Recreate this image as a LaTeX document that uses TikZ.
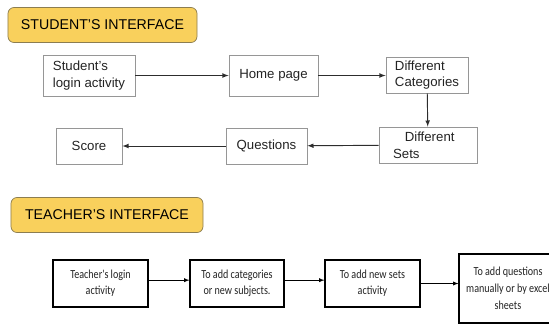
\documentclass[tikz,border=0pt]{standalone}
\usepackage{fontspec}
\setmainfont{Liberation Sans}
\newfontfamily\calfont[FakeStretch=0.82]{Carlito}
\usepackage{tikz}
\usetikzlibrary{arrows}

\definecolor{bannerfill}{RGB}{249,208,92}
\definecolor{bannerline}{RGB}{140,125,80}
\definecolor{boxgray}{RGB}{150,150,150}
\definecolor{linegray}{RGB}{45,45,45}
\definecolor{textgray}{RGB}{35,35,35}

\begin{document}
\begin{tikzpicture}[x=0.03cm, y=-0.03cm,
  banner/.style={draw=bannerline, fill=bannerfill, rounded corners=0.18cm,
       line width=0.6pt, inner sep=0cm, minimum height=1.05cm,
       font=\fontsize{12.1}{14}\selectfont},
  sbox/.style={draw=boxgray, line width=0.7pt, inner sep=0cm, text=textgray,
       minimum height=1.08cm, font=\fontsize{11.3}{14.2}\selectfont},
  tbox/.style={draw=black, line width=0.9pt, inner sep=0cm, text=textgray,
       minimum width=2.85cm, minimum height=1.41cm, align=center,
       font=\calfont\fontsize{10.5}{13.6}\selectfont},
  sarrow/.style={draw=linegray, line width=0.8pt, -latex},
  tarrow/.style={draw=black, line width=0.6pt, -latex}]

\useasboundingbox (0,0) rectangle (549,324);
\clip (0,0) rectangle (549,324);

% student's interface
\node[banner, minimum width=5.67cm] (sbanner) at (102.5,25) {STUDENT'S INTERFACE};

\node[sbox, minimum width=2.76cm, minimum height=1.23cm, align=left]
  (slogin) at (89,75.5) {Student's\\login activity};
\node[sbox, minimum width=2.67cm, minimum height=1.23cm]
  (home) at (273.5,75.5) {Home page};
\node[sbox, minimum width=2.46cm, align=left]
  (cats) at (427,75) {Different\\Categories};
\node[sbox, minimum width=2.94cm, align=left]
  (sets) at (428,145) {\hspace{0.35cm}Different\\Sets\hspace{1.3cm}\mbox{}};
\node[sbox, minimum width=2.43cm] (quest) at (266.5,146) {Questions};
\node[sbox, minimum width=1.98cm] (score) at (89,146) {Score};

\draw[sarrow] (slogin) -- (home);
\draw[sarrow] (home) -- (cats.west |- home);
\draw[sarrow] (cats) -- (sets);
\draw[sarrow] (sets) -- (quest);
\draw[sarrow] (quest) -- (score);

% teacher's interface
\node[banner, minimum width=5.76cm] (tbanner) at (107,215) {TEACHER'S INTERFACE};

\node[tbox] (tlogin) at (100.5,283.5) {Teacher's login\\activity};
\node[tbox, minimum width=2.82cm] (tcats) at (237,283.5) {To add categories\\or new subjects.};
\node[tbox] (tsets) at (372.5,283.5) {To add new sets\\activity};
\node[tbox, minimum width=2.94cm, minimum height=2.07cm, font=\calfont\fontsize{10.5}{14.5}\selectfont]
  (tquest) at (508,288.5) {To add questions\\manually or by excel\\sheets};

\draw[tarrow] ([yshift=0.1cm]tlogin.east) -- ([yshift=0.1cm]tcats.west);
\draw[tarrow] ([yshift=0.1cm]tcats.east) -- ([yshift=0.1cm]tsets.west);
\draw[tarrow] (tsets.east) -- (tquest.west |- tsets.east);
\end{tikzpicture}
\end{document}
